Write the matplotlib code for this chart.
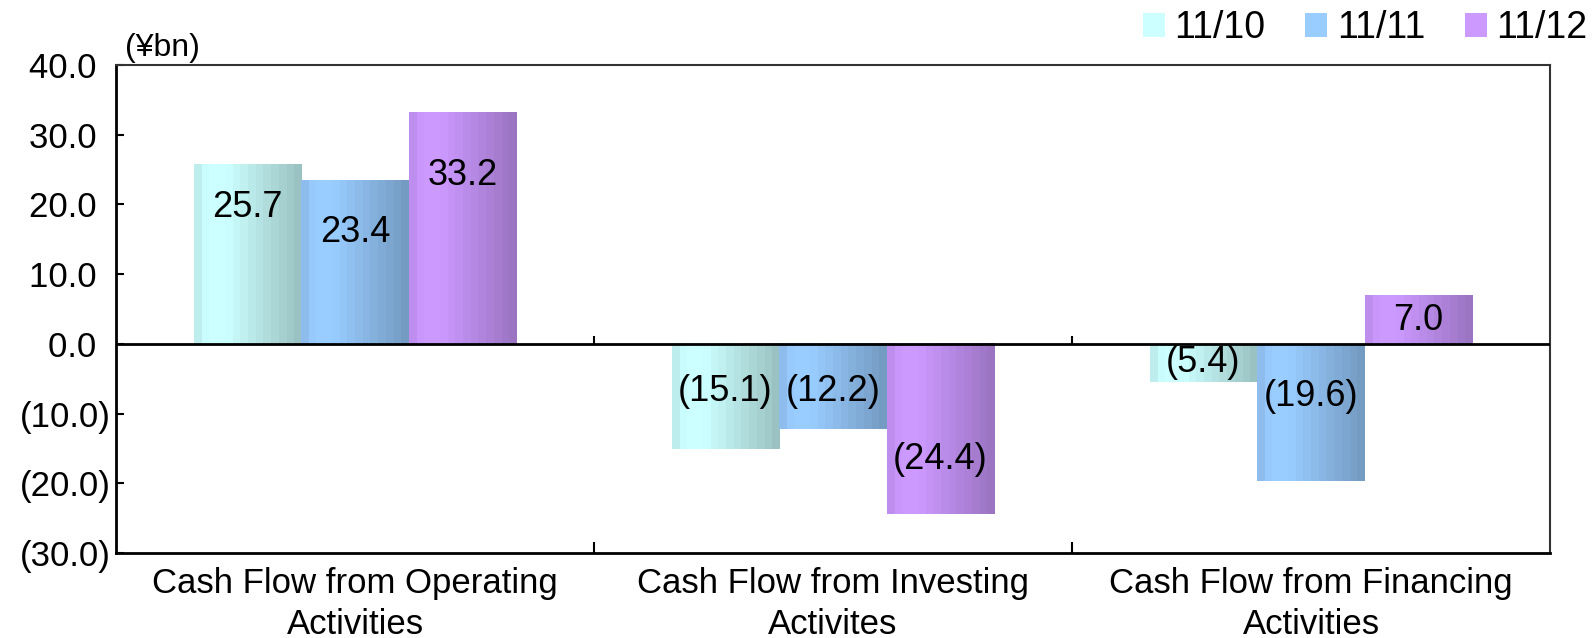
import numpy as np
import matplotlib
matplotlib.use('Agg')
import matplotlib.pyplot as plt
from matplotlib.colors import to_rgb
from matplotlib.ticker import FuncFormatter

plt.rcParams['font.family'] = ['Liberation Sans', 'DejaVu Sans']

categories = ['Cash Flow from Operating\nActivities',
              'Cash Flow from Investing\nActivites',
              'Cash Flow from Financing\nActivities']
series = ['11/10', '11/11', '11/12']
vals_1110 = [25.7, -15.1, -5.4]
vals_1111 = [23.4, -12.2, -19.6]
vals_1112 = [33.2, -24.4, 7.0]
colors = ['#CCFFFF', '#99CCFF', '#CC99FF']

# where the labels sit (data units)
lab_y_1110 = [19.5, -6.8, -2.7]
lab_y_1111 = [16.0, -6.8, -7.5]
lab_y_1112 = [24.2, -16.6, 3.3]

all_vals = [vals_1110, vals_1111, vals_1112]
all_laby = [lab_y_1110, lab_y_1111, lab_y_1112]


def fmt(v):
    return '(%.1f)' % abs(v) if v < 0 else '%.1f' % v


def fmt_axis(v, pos):
    # excel style: positives keep room for the closing bracket
    return '(%.1f)' % abs(v) if v < 0 else '%.1f\u2009\u2009' % v


# brightness profile across a bar (striped gradient, light near left, dark to right)
nstripes = 14
t = (np.arange(nstripes) + 0.5) / nstripes
prof = np.where(t < 0.12, 0.9 + t / 0.12 * 0.1,
                np.where(t < 0.3, 1.0, 1.0 - (t - 0.3) / 0.7 * 0.25))

fig = plt.figure(figsize=(15.94, 6.38), dpi=100)
ax = fig.add_axes([0.0728, 0.1332, 0.8996, 0.7648])

x = np.arange(len(categories))
w = 0.225
handles = []
for i, (vals, c) in enumerate(zip(all_vals, colors)):
    bars = ax.bar(x + (i - 1) * w, vals, w, color=c, zorder=1, label=series[i])
    handles.append(bars)
    base = np.array(to_rgb(c))
    img = (prof[:, None] * base[None, :])[None, :, :]
    for b, v, ly in zip(bars, vals, all_laby[i]):
        x0, x1 = b.get_x(), b.get_x() + b.get_width()
        y0, y1 = sorted([0, b.get_height()])
        ax.imshow(img, extent=[x0, x1, y0, y1], aspect='auto',
                  interpolation='nearest', zorder=2)
        ax.text(b.get_x() + b.get_width() / 2, ly, fmt(v), ha='center',
                va='center', fontsize=26, zorder=4)

ax.set_xlim(-0.5, 2.5)
ax.set_ylim(-30, 40)
ax.set_yticks(np.arange(-30, 41, 10))
ax.yaxis.set_major_formatter(FuncFormatter(fmt_axis))
ax.tick_params(axis='y', direction='in', length=6, width=1.5, labelsize=25, pad=4)

ax.set_xticks(x)
ax.set_xticklabels(categories, fontsize=25, linespacing=1.3)
ax.tick_params(axis='x', which='major', length=0, pad=10)
ax.set_xticks([0.5, 1.5], minor=True)
ax.tick_params(axis='x', which='minor', direction='in', length=8, width=1.5)

ax.axhline(0, color='black', lw=2, zorder=3)
ax.vlines([0.5, 1.5], 0, 1.2, color='black', lw=1.5, zorder=3)

for s in ['left', 'bottom']:
    ax.spines[s].set_linewidth(2)
for s in ['top', 'right']:
    ax.spines[s].set_linewidth(1.5)
    ax.spines[s].set_color('#333333')

fig.text(125 / 1594, 1 - 48 / 638, '(¥bn)', ha='left', va='center', fontsize=23)

fig.legend(handles=handles, labels=series, ncol=3, loc='center right',
           bbox_to_anchor=(0.996, 1 - 28 / 638), frameon=False, fontsize=27,
           handlelength=0.6, handleheight=0.6, handletextpad=0.25,
           columnspacing=1.05, borderpad=0, borderaxespad=0)

fig.savefig('out.png', dpi=100)
